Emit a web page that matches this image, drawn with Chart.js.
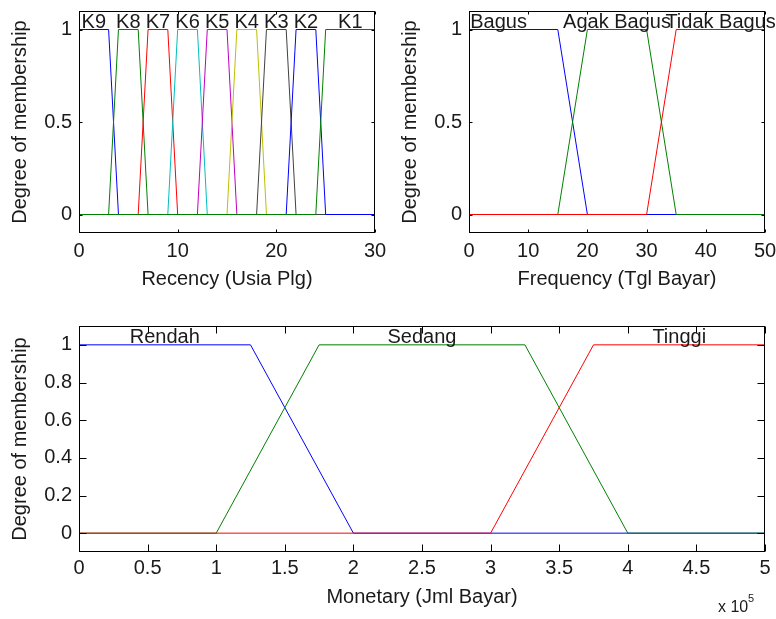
<!DOCTYPE html>
<html>
<head>
<meta charset="utf-8">
<title>Fungsi keanggotaan RFM</title>
<script src="https://cdn.jsdelivr.net/npm/chart.js@4.4.0/dist/chart.umd.min.js"></script>
<style>
    body { margin: 0; background: #fff; }
    #wrap { position: relative; width: 776px; height: 619px; background: #fff; }
    #wrap canvas { position: absolute; }
</style>
</head>
<body>
<div id="wrap">
    <canvas id="recencyChart" width="390" height="300" style="left:0;top:0;width:390px;height:300px"></canvas>
    <canvas id="frequencyChart" width="386" height="300" style="left:390px;top:0;width:386px;height:300px"></canvas>
    <canvas id="monetaryChart" width="776" height="319" style="left:0;top:300px;width:776px;height:319px"></canvas>
</div>
<script>
// Trapezoid parameters [a b c d] for each membership function
const recencyNames = ['K9', 'K8', 'K7', 'K6', 'K5', 'K4', 'K3', 'K2', 'K1'];
const recencyParams = [
    [0, 0, 3, 4], [3, 4, 6, 7], [6, 7, 9, 10], [9, 10, 12, 13], [12, 13, 15, 16],
    [15, 16, 18, 19], [18, 19, 21, 22], [21, 22, 24, 25], [24, 25, 30, 30]
];
const recencyTicks = [0, 10, 20, 30];

const frequencyNames = ['Bagus', 'Agak Bagus', 'Tidak Bagus'];
const frequencyParams = [[-10, -5, 15, 20], [15, 20, 30, 35], [30, 35, 50, 50]];
const frequencyTicks = [0, 10, 20, 30, 40, 50];

const monetaryNames = ['Rendah', 'Sedang', 'Tinggi'];
const monetaryParams = [
    [0, 0, 125000, 200000],
    [100000, 175000, 325000, 400000],
    [300000, 375000, 500000, 500000]
];
const monetaryTicks = [0, 50000, 100000, 150000, 200000, 250000, 300000, 350000, 400000, 450000, 500000];

const membershipTicksTop = [0, 0.5, 1];
const membershipTicksBottom = [0, 0.2, 0.4, 0.6, 0.8, 1];

// matlab line colour order
const lineColors = ['#0000ff', '#008000', '#ff0000', '#00bfbf', '#bf00bf', '#bfbf00', '#404040'];
const FONT = "'Liberation Sans', Arial, Helvetica, sans-serif";
const TEXT = '#1a1a1a';

function trapmf(x, [a, b, c, d]) {
    const up = b > a ? (x - a) / (b - a) : (x >= a ? 1 : 0);
    const down = d > c ? (d - x) / (d - c) : (x <= c ? 1 : 0);
    return Math.max(0, Math.min(up, 1, down));
}

function mfPoints(p, lo, hi) {
    const xs = [...new Set([lo, ...p, hi].filter(v => v >= lo && v <= hi))].sort((a, b) => a - b);
    return xs.map(x => ({ x, y: trapmf(x, p) }));
}

// frame, inward ticks on all sides, mf names and the axis exponent
const matlabBox = {
    id: 'matlabBox',
    afterDatasetsDraw(chart, args, opts) {
        const { ctx, chartArea: a, scales: { x, y } } = chart;
        const L = Math.round(a.left) + 0.5, R = Math.round(a.right) - 0.5;
        const T = Math.round(a.top) + 0.5, B = Math.round(a.bottom) - 0.5;
        const len = opts.tickLen;
        ctx.save();
        ctx.strokeStyle = '#000';
        ctx.lineWidth = 1;
        ctx.beginPath();
        x.ticks.forEach(t => {
            const px = Math.round(x.getPixelForValue(t.value)) + 0.5;
            ctx.moveTo(px, B); ctx.lineTo(px, B - len);
            ctx.moveTo(px, T); ctx.lineTo(px, T + len);
        });
        y.ticks.forEach(t => {
            const py = Math.round(y.getPixelForValue(t.value)) + 0.5;
            ctx.moveTo(L, py); ctx.lineTo(L + len, py);
            ctx.moveTo(R, py); ctx.lineTo(R - len, py);
        });
        ctx.stroke();
        ctx.strokeRect(L, T, R - L, B - T);

        ctx.fillStyle = TEXT;
        ctx.font = '20px ' + FONT;
        ctx.textAlign = 'center';
        ctx.textBaseline = 'alphabetic';
        const top = y.getPixelForValue(1) - 2;
        opts.names.forEach((name, i) => {
            const p = opts.params[i];
            ctx.fillText(name, x.getPixelForValue((p[1] + p[2]) / 2), top);
        });

        if (opts.exponent) {
            ctx.textAlign = 'left';
            ctx.font = '16px ' + FONT;
            ctx.fillText('x 10', a.right - 47, a.bottom + 60);
            ctx.font = '11px ' + FONT;
            ctx.fillText(opts.exponent, a.right - 17, a.bottom + 50);
        }
        ctx.restore();
    }
};

function membershipChart(id, names, params, lo, hi, xTicks, yTicks, xTitle, fmtX, box) {
    const datasets = params.map((p, i) => ({
        label: names[i],
        data: mfPoints(p, lo, hi),
        borderColor: lineColors[i % lineColors.length],
        borderWidth: 1,
        pointRadius: 0,
        tension: 0,
        fill: false,
        order: params.length - i
    }));

    return new Chart(document.getElementById(id), {
        type: 'line',
        data: { datasets },
        plugins: [matlabBox],
        options: {
            responsive: false,
            devicePixelRatio: 1,
            animation: false,
            layout: { padding: { left: 0, top: box.top, right: box.right, bottom: 0 } },
            plugins: {
                legend: { display: false },
                tooltip: { enabled: false },
                matlabBox: { names, params, tickLen: box.tickLen, exponent: box.exponent }
            },
            scales: {
                x: {
                    type: 'linear',
                    min: lo,
                    max: hi,
                    grid: { display: false, drawTicks: false },
                    border: { display: false },
                    afterBuildTicks: s => { s.ticks = xTicks.map(v => ({ value: v })); },
                    afterFit: s => { s.height = box.xAxisHeight; s.paddingLeft = 0; s.paddingRight = 0; },
                    ticks: {
                        autoSkip: false, maxRotation: 0, padding: box.xTickPad,
                        color: TEXT, font: { family: FONT, size: 20 },
                        callback: v => fmtX(v)
                    },
                    title: {
                        display: true, text: xTitle, color: TEXT,
                        font: { family: FONT, size: 20 },
                        padding: { top: 0, bottom: box.xTitlePad }
                    }
                },
                y: {
                    type: 'linear',
                    min: -0.1,
                    max: 1.1,
                    grid: { display: false, drawTicks: false },
                    border: { display: false },
                    afterBuildTicks: s => { s.ticks = yTicks.map(v => ({ value: v })); },
                    afterFit: s => { s.width = 79; s.paddingTop = 0; s.paddingBottom = 0; },
                    ticks: {
                        autoSkip: false, padding: 7,
                        color: TEXT, font: { family: FONT, size: 20 },
                        callback: v => String(v)
                    },
                    title: {
                        display: true, text: 'Degree of membership', color: TEXT,
                        font: { family: FONT, size: 20 },
                        padding: { top: 8, bottom: 0 }
                    }
                }
            }
        }
    });
}

membershipChart('recencyChart', recencyNames, recencyParams, 0, 30, recencyTicks, membershipTicksTop,
    'Recency (Usia Plg)', v => String(v),
    { top: 11, right: 15, xAxisHeight: 67, xTickPad: 6, xTitlePad: 9, tickLen: 3 });

membershipChart('frequencyChart', frequencyNames, frequencyParams, 0, 50, frequencyTicks, membershipTicksTop,
    'Frequency (Tgl Bayar)', v => String(v),
    { top: 11, right: 11, xAxisHeight: 67, xTickPad: 6, xTitlePad: 9, tickLen: 3 });

membershipChart('monetaryChart', monetaryNames, monetaryParams, 0, 500000, monetaryTicks, membershipTicksBottom,
    'Monetary (Jml Bayar)', v => String(v / 100000),
    { top: 26, right: 11, xAxisHeight: 67, xTickPad: 4, xTitlePad: 10, tickLen: 7, exponent: '5' });
</script>
</body>
</html>
